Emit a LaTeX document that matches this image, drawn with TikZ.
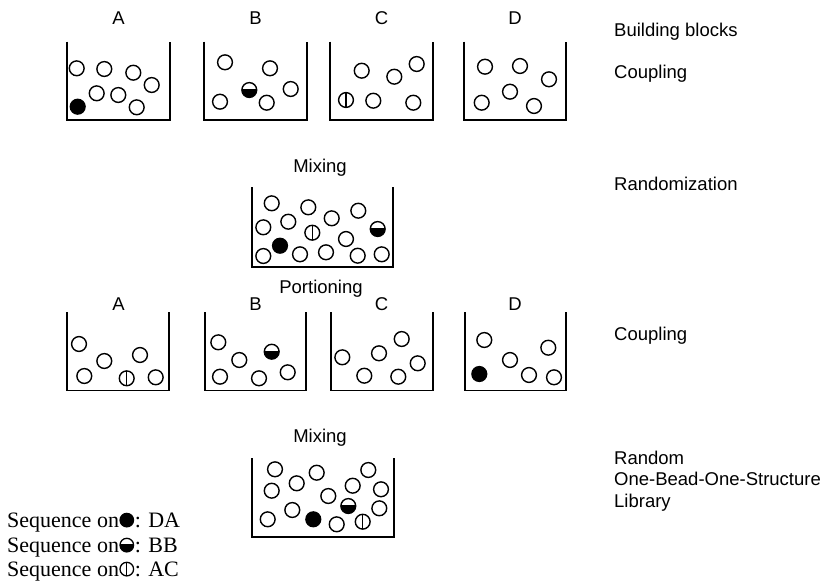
\documentclass[tikz,border=0pt]{standalone}
\usepackage{fontspec}
\setmainfont{Liberation Sans}
\newfontfamily\legserif{Liberation Serif}
\usetikzlibrary{calc}
\tikzset{
  wall/.style={line width=1.9pt, line join=miter},
  lab/.style={font=\fontsize{18.5}{21.5}\selectfont, inner sep=0pt, anchor=base},
  sidelab/.style={font=\fontsize{18.5}{21.5}\selectfont, inner sep=0pt, anchor=base west},
  legtext/.style={font=\legserif\fontsize{22}{24}\selectfont, inner sep=0pt, anchor=base west},
  beadline/.style={line width=1.4pt},
  bead/.pic={\draw[beadline, fill=white] (0pt,0pt) circle[radius=7.4pt];},
  fullbead/.pic={\fill[black] (0pt,0pt) circle[radius=8.1pt];},
  halfbead/.pic={\fill[black] (-7.4pt,0pt) arc[start angle=180,end angle=360,radius=7.4pt] -- cycle;
                 \draw[beadline] (0pt,0pt) circle[radius=7.4pt];
                 \draw[beadline] (-7.4pt,0pt) -- (7.4pt,0pt);},
  splitbead/.pic={\draw[beadline, fill=white] (0pt,0pt) circle[radius=7.4pt];
                  \draw[beadline] (0pt,-7.4pt) -- (0pt,7.4pt);},
  legfull/.pic={\fill[black] (0pt,0pt) circle[radius=7.4pt];},
  leghalf/.pic={\fill[black] (-6.8pt,0pt) arc[start angle=180,end angle=360,radius=6.8pt] -- cycle;
                \draw[line width=1.3pt] (0pt,0pt) circle[radius=6.8pt];
                \draw[line width=1.3pt] (-6.8pt,0pt) -- (6.8pt,0pt);},
  legsplit/.pic={\draw[line width=1.3pt] (0pt,0pt) circle[radius=6.8pt];
                 \draw[line width=1.3pt] (0pt,-6.8pt) -- (0pt,6.8pt);},
}
\newcommand\vessel[4]{\draw[wall] (#1,#3) |- (#2,#4) -- (#2,#3);}
\begin{document}
\begin{tikzpicture}[x=1pt,y=-1pt]
\useasboundingbox (0,0) rectangle (825,582);
% ---- top row labels
\node[lab] (tA) at (118.5,24.5) {A};
\node[lab] (tB) at (255.5,24.5) {B};
\node[lab] (tC) at (381.5,24.5) {C};
\node[lab] (tD) at (515,24.5) {D};
% ---- top row vessels
\vessel{67.3}{170}{41.7}{120}
\vessel{204}{307}{41.7}{120}
\vessel{330}{433}{41.7}{120}
\vessel{464}{565.7}{41.7}{120}
\foreach \x/\y in {76.7/68.3,104.3/69,133.3/72.7,151.7/85,96.7/93.3,118.3/95,136.7/107.3,
  225/62.3,270/68.3,290.7/89,220/101.7,266.7/102.7,
  361.7/70.7,394.3/76.7,416.7/64,373.3/100.7,413.3/102.7,
  485/66.7,520/66,549/79.3,510/91.7,481.7/102.7,534/106}
  \pic at (\x,\y) {bead};
\pic at (77.7,106.7) {fullbead};
\pic at (249.3,90) {halfbead};
\pic at (346,100) {splitbead};
% ---- first mixing
\node[lab] (mix1) at (320,172.7) {Mixing};
\vessel{252.3}{393.3}{187.3}{266.7}
\foreach \x/\y in {271.7/203.3,308.3/207.3,358.3/210.7,263.3/227.3,288.3/221.7,331.7/218.3,
  346/239,263.3/256,300/254.3,326/252.3,357.7/255.7,381.7/254.3}
  \pic at (\x,\y) {bead};
\pic at (312.3,232.7) {splitbead};
\pic at (377.7,229) {halfbead};
\pic at (280,245.7) {fullbead};
% ---- portioning
\node[lab] (port) at (321,293.5) {Portioning};
\node[lab] (bA) at (118.5,310) {A};
\node[lab] (bB) at (255.5,310) {B};
\node[lab] (bC) at (381.5,310) {C};
\node[lab] (bD) at (515,310) {D};
\vessel{67.3}{169.3}{312.3}{390.5}
\vessel{205}{305.7}{312.3}{390.5}
\vessel{330.7}{433}{312.3}{390.5}
\vessel{465}{565.7}{312.3}{390.5}
\foreach \x/\y in {79/344,104.3/361,140/355,84.3/376,155.7/377.3,
  218.3/342.3,239.3/360,220/376.7,259/378.3,287.7/372.3,
  342.3/357.3,379/353.3,401.7/339,364.3/375.7,398.3/376.7,417.7/363.3,
  484.3/340,548.3/347.7,510/360,529/375,554/377.3}
  \pic at (\x,\y) {bead};
\pic at (126.7,378.3) {splitbead};
\pic at (271.7,351.7) {halfbead};
\pic at (479.3,374) {fullbead};
% ---- second mixing
\node[lab] (mix2) at (320,442.7) {Mixing};
\vessel{252.3}{394.3}{458.3}{537.3}
\foreach \x/\y in {275/469.3,316.7/472.7,368.3/470,271.7/490.7,296.7/483.3,352.7/485.7,
  381/489.3,328.3/496,292.3/510,379.3/508.3,267.7/519.3,336.7/524.3}
  \pic at (\x,\y) {bead};
\pic at (348.3,506) {halfbead};
\pic at (313.3,519.3) {fullbead};
\pic at (362.7,521.7) {splitbead};
% ---- side labels
\node[sidelab] (s1) at (614,36.7) {Building blocks};
\node[sidelab] (s2) at (614,78.3) {Coupling};
\node[sidelab] (s3) at (614,190.7) {Randomization};
\node[sidelab] (s4) at (614,340.7) {Coupling};
\node[sidelab] (s5) at (614,464.3) {Random};
\node[sidelab] (s6) at (614,485.8) {One-Bead-One-Structure};
\node[sidelab] (s7) at (614,507.3) {Library};
% ---- legend
\node[legtext] (l1a) at (7,527.5) {Sequence on};
\pic at ($(l1a.base east)+(7.6pt,7.4pt)$) {legfull};
\node[legtext] (l1b) at ($(l1a.base east)+(15.5pt,0pt)$) {: DA};
\node[legtext] (l2a) at (7,552.5) {Sequence on};
\pic at ($(l2a.base east)+(7.6pt,7.4pt)$) {leghalf};
\node[legtext] (l2b) at ($(l2a.base east)+(15.5pt,0pt)$) {: BB};
\node[legtext] (l3a) at (7,576.5) {Sequence on};
\pic at ($(l3a.base east)+(7.6pt,7.4pt)$) {legsplit};
\node[legtext] (l3b) at ($(l3a.base east)+(15.5pt,0pt)$) {: AC};
\end{tikzpicture}
\end{document}
